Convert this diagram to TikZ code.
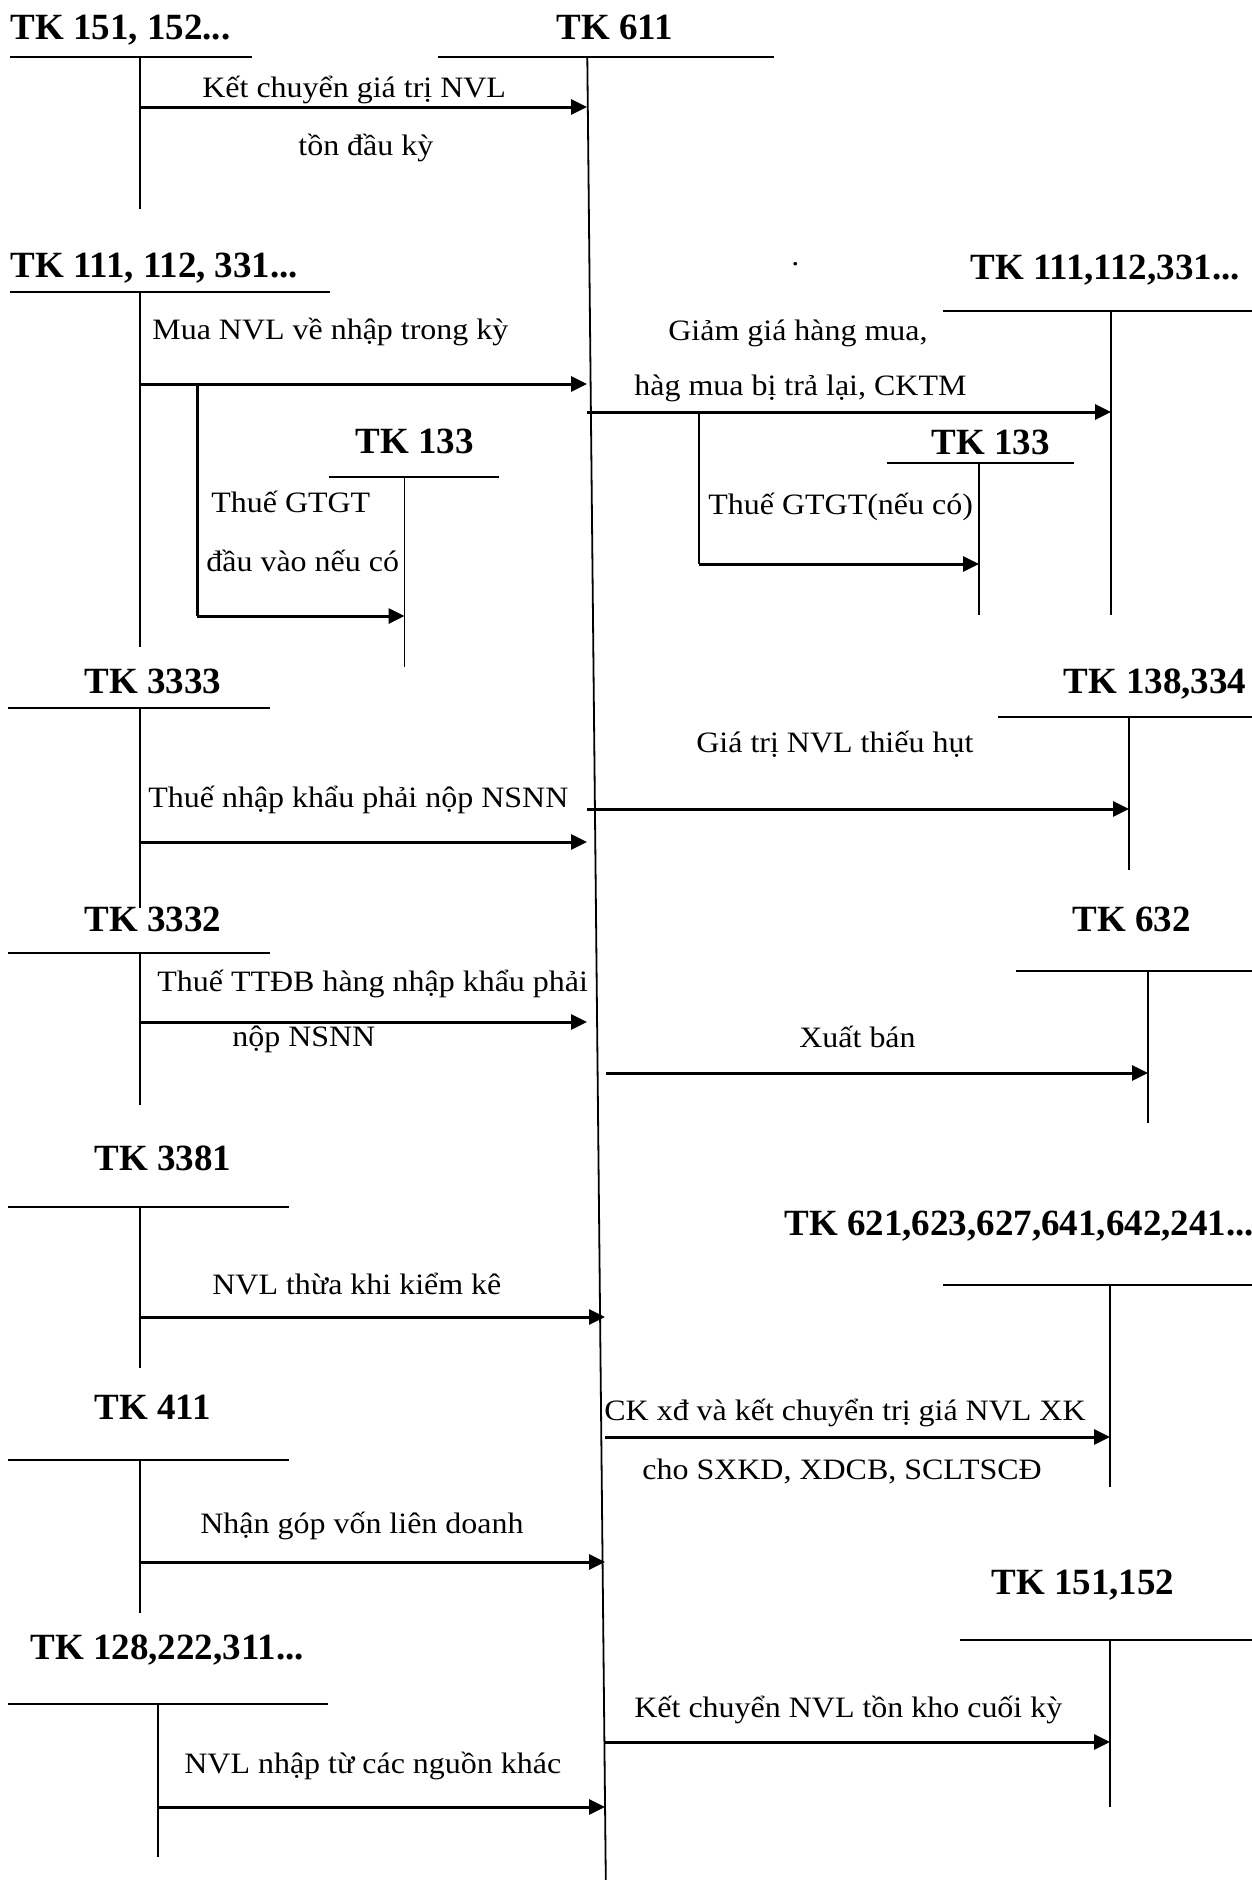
\documentclass[tikz,border=0pt]{standalone}
\usepackage{fontspec}
\setmainfont{Liberation Serif}
\newfontfamily\lblfont[FakeStretch=1.08]{Liberation Serif}
\usetikzlibrary{arrows.meta}
\begin{document}
\begin{tikzpicture}[x=0.5pt,y=-0.5pt,
  acct/.style={font=\bfseries\fontsize{18.5}{20}\selectfont, anchor=west, inner sep=0, text height=0.7em, text depth=0.05em, yshift=-2.6pt},
  lbl/.style={font=\lblfont\fontsize{14.8}{17}\selectfont, anchor=west, inner sep=0, text height=0.7em, text depth=0.1em, yshift=-1.8pt},
  uline/.style={line width=1.1pt},
  vline/.style={line width=0.8pt},
  mline/.style={line width=0.9pt},
  flow/.style={line width=1.5pt, -{Triangle[length=8pt,width=7.5pt]}},
  bline/.style={line width=1.5pt}
]
\useasboundingbox (0,0) rectangle (1252,1880);
\fill[white] (0,0) rectangle (1252,1880);

% ---------- main account TK 611 ----------
\node[acct] (tk611) at (556,28) {TK 611};
\draw[uline] (438,57) -- (774,57);
\coordinate (m0) at (587.3,57);
\coordinate (m1) at (605.8,1880);
\draw[mline] (m0) -- (m1);

% ---------- TK 151,152 (top) ----------
\node[acct] (tka) at (10,28) {TK 151, 152...};
\draw[uline] (10,57) -- (252,57);
\draw[vline] (140,57) -- (140,209);
\coordinate (a1s) at (140,107); \coordinate (a1e) at (587,107);
\draw[flow] (a1s) -- (a1e);
\node[lbl] (l1) at (202,88) {Kết chuyển giá trị NVL};
\node[lbl] (l2) at (298,146) {tồn đầu kỳ};

% ---------- TK 111,112,331 left ----------
\node[acct] (tkb) at (10,266) {TK 111, 112, 331...};
\draw[uline] (10,292) -- (330,292);
\draw[vline] (140,292) -- (140,647);
\node[lbl] (l3) at (152,330) {Mua NVL về nhập trong kỳ};
\coordinate (b1s) at (140,384); \coordinate (b1e) at (587,384);
\draw[flow] (b1s) -- (b1e);
\coordinate (b2s) at (197,384); \coordinate (b2m) at (197,616); \coordinate (b2e) at (404.6,616);
\draw[bline] (b2s) -- (b2m);
\draw[flow] (b2m) -- (b2e);
\node[acct] (tkc) at (355,442) {TK 133};
\draw[uline] (329,477) -- (499,477);
\draw[vline] (404.6,477) -- (404.6,667);
\node[lbl] (l4) at (211,503) {Thuế GTGT};
\node[lbl] (l5) at (206,562) {đầu vào nếu có};

% ---------- TK 111,112,331 right ----------
\node[acct] (tkd) at (970,268) {TK 111,112,331...};
\draw[uline] (943,311) -- (1252,311);
\draw[vline] (1111,311) -- (1111,615);
\node[lbl, text height=0.5em] (dot) at (791,258) {.};
\node[lbl] (l6) at (668,331) {Giảm giá hàng mua,};
\node[lbl] (l7) at (634,386) {hàg mua bị trả lại, CKTM};
\coordinate (d1s) at (587,412); \coordinate (d1e) at (1111,412);
\draw[flow] (d1s) -- (d1e);
\coordinate (d2s) at (699,412); \coordinate (d2m) at (699,564); \coordinate (d2e) at (979,564);
\draw[vline] (d2s) -- (d2m);
\draw[flow] (d2m) -- (d2e);
\node[acct] (tke) at (931,443) {TK 133};
\draw[uline] (887,463) -- (1074,463);
\draw[vline] (979,463) -- (979,615);
\node[lbl] (l8) at (708,505) {Thuế GTGT(nếu có)};

% ---------- TK 3333 ----------
\node[acct] (tkf) at (84,682) {TK 3333};
\draw[uline] (8,708) -- (270,708);
\draw[vline] (140,708) -- (140,908);
\node[lbl] (l9) at (148,798) {Thuế nhập khẩu phải nộp NSNN};
\coordinate (f1s) at (140,842); \coordinate (f1e) at (587,842);
\draw[flow] (f1s) -- (f1e);

% ---------- TK 138,334 ----------
\node[acct] (tkg) at (1063,682) {TK 138,334};
\draw[uline] (998,717) -- (1252,717);
\draw[vline] (1129,717) -- (1129,870);
\node[lbl] (l10) at (696,743) {Giá trị NVL thiếu hụt};
\coordinate (g1s) at (587,809); \coordinate (g1e) at (1129,809);
\draw[flow] (g1s) -- (g1e);

% ---------- TK 3332 ----------
\node[acct] (tkh) at (84,920) {TK 3332};
\draw[uline] (8,953) -- (270,953);
\draw[vline] (140,953) -- (140,1105);
\node[lbl] (l11) at (157,982) {Thuế TTĐB hàng nhập khẩu phải};
\node[lbl] (l12) at (232,1037) {nộp NSNN};
\coordinate (h1s) at (140,1022); \coordinate (h1e) at (587,1022);
\draw[flow] (h1s) -- (h1e);

% ---------- TK 632 ----------
\node[acct] (tki) at (1072,920) {TK 632};
\draw[uline] (1016,971) -- (1252,971);
\draw[vline] (1148,971) -- (1148,1123);
\node[lbl] (l13) at (799,1038) {Xuất bán};
\coordinate (i1s) at (606,1073); \coordinate (i1e) at (1148,1073);
\draw[flow] (i1s) -- (i1e);

% ---------- TK 3381 ----------
\node[acct] (tkj) at (94,1159) {TK 3381};
\draw[uline] (8,1207) -- (289,1207);
\draw[vline] (140,1207) -- (140,1368);
\node[lbl] (l14) at (212,1285) {NVL thừa khi kiểm kê};
\coordinate (j1s) at (140,1317); \coordinate (j1e) at (605,1317);
\draw[flow] (j1s) -- (j1e);

% ---------- TK 621,... ----------
\node[acct] (tkk) at (784,1224) {TK 621,623,627,641,642,241...};
\draw[uline] (943,1285) -- (1252,1285);
\draw[vline] (1110,1285) -- (1110,1487);
\node[lbl] (l15) at (604,1411) {CK xđ và kết chuyển trị giá NVL XK};
\node[lbl] (l16) at (642,1470) {cho SXKD, XDCB, SCLTSCĐ};
\coordinate (k1s) at (605,1437); \coordinate (k1e) at (1110,1437);
\draw[flow] (k1s) -- (k1e);

% ---------- TK 411 ----------
\node[acct] (tkl) at (94,1408) {TK 411};
\draw[uline] (8,1460) -- (289,1460);
\draw[vline] (140,1460) -- (140,1613);
\node[lbl] (l17) at (200,1524) {Nhận góp vốn liên doanh};
\coordinate (l1s) at (140,1562); \coordinate (l1e) at (605,1562);
\draw[flow] (l1s) -- (l1e);

% ---------- TK 151,152 (bottom right) ----------
\node[acct] (tkm) at (991,1583) {TK 151,152};
\draw[uline] (960,1640) -- (1252,1640);
\draw[vline] (1110,1640) -- (1110,1807);
\node[lbl] (l18) at (634,1708) {Kết chuyển NVL tồn kho cuối kỳ};
\coordinate (m1s) at (605,1742); \coordinate (m1e) at (1110,1742);
\draw[flow] (m1s) -- (m1e);

% ---------- TK 128,222,311 ----------
\node[acct] (tkn) at (30,1648) {TK 128,222,311...};
\draw[uline] (8,1704) -- (328,1704);
\draw[vline] (158,1704) -- (158,1857);
\node[lbl] (l19) at (184,1764) {NVL nhập từ các nguồn khác};
\coordinate (n1s) at (158,1807); \coordinate (n1e) at (605,1807);
\draw[flow] (n1s) -- (n1e);
\end{tikzpicture}
\end{document}
